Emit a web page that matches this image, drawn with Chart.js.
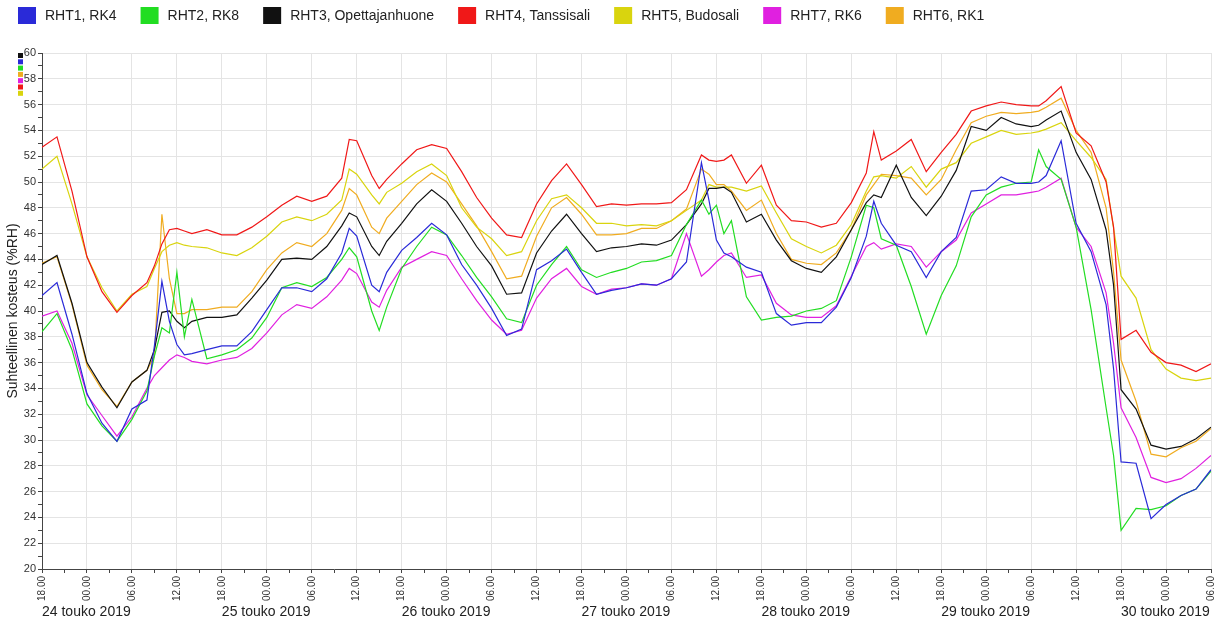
<!DOCTYPE html>
<html>
<head>
<meta charset="utf-8">
<title>Suhteellinen kosteus</title>
<script src="https://cdn.jsdelivr.net/npm/chart.js@4.4.1/dist/chart.umd.min.js"></script>
<style>
  html, body { margin: 0; padding: 0; background: #fff; }
</style>
</head>
<body>
<canvas id="line-chart" width="1226" height="620"></canvas>
<script>
// hours counted from 24.5.2019 klo 18.00 (mostly every 2 h, extra readings at the spikes)
var hours = [0,2,4,6,8,10,12,14,15,16,17,18,19,20,22,24,26,28,30,32,34,36,38,40,41,42,44,45,46,48,
  50,52,54,56,58,60,62,64,66,68,70,72,74,76,78,80,82,84,86,88,89,90,91,92,94,96,98,100,102,104,
  106,108,110,111,112,114,116,118,120,122,124,126,128,130,132,133,134,136,138,140,142,143,144,146,148,150,152,154,156];

var rht1 = [41.2,42.2,38.2,33.6,31.3,29.9,32.4,33.1,37.3,42.3,39.2,37.4,36.6,36.7,
  37.0,37.3,37.3,38.4,40.1,41.8,41.8,41.5,42.5,44.5,46.4,45.8,42.0,41.5,
  43.0,44.7,45.7,46.8,45.9,43.6,42.0,40.2,38.1,38.6,43.2,43.9,44.8,43.0,41.3,41.6,41.8,42.1,42.0,42.5,43.8,51.5,
  48.6,45.5,44.5,
  44.2,43.4,43.0,39.8,38.9,39.1,39.1,40.3,42.6,45.8,48.5,
  46.8,45.1,44.6,42.6,44.6,45.7,49.3,49.4,50.4,49.9,49.9,50.0,
  50.5,53.2,46.8,44.6,40.5,35.5,
  28.3,28.2,23.9,25.0,25.7,26.2,27.7];

var rht2 = [38.4,39.8,37.0,32.8,31.1,29.9,31.6,33.8,36.5,38.7,38.3,43.0,38.0,40.9,
  36.3,36.6,37.0,37.9,39.5,41.8,42.2,41.9,42.6,44.0,44.9,44.2,40.0,38.5,
  40.3,43.3,45.0,46.5,45.9,44.3,42.6,41.1,39.4,39.1,42.0,43.6,45.0,43.2,42.6,43.0,43.3,43.8,43.9,44.3,46.7,48.6,
  47.5,48.2,46.0,
  47.0,41.1,39.3,39.5,39.6,40.0,40.2,40.8,44.2,48.2,48.0,
  45.6,45.1,41.9,38.2,41.2,43.5,47.3,49.0,49.6,49.9,50.0,52.5,
  51.2,50.2,46.5,40.1,32.5,28.8,
  23.0,24.7,24.6,24.9,25.7,26.2,27.6];

var rht3 = [43.6,44.3,40.6,36.0,34.1,32.5,34.5,35.4,37.0,39.9,40.0,39.2,38.7,39.2,
  39.5,39.5,39.7,41.0,42.4,44.0,44.1,44.0,45.0,46.6,47.6,47.3,45.0,44.3,
  45.4,46.8,48.3,49.4,48.5,46.8,45.0,43.5,41.3,41.4,44.5,46.2,47.5,46.0,44.6,44.9,45.0,45.2,45.1,45.5,46.7,48.3,
  49.5,49.5,49.6,
  49.2,46.9,47.5,45.5,43.9,43.3,43.0,44.2,46.3,48.4,49.0,
  48.8,51.3,48.8,47.4,48.9,50.9,54.3,54.0,55.0,54.5,54.3,54.4,
  54.8,55.5,52.3,50.2,46.3,42.0,
  33.9,32.4,29.6,29.3,29.5,30.1,31.0];

var rht4 = [52.7,53.5,49.3,44.2,41.5,39.9,41.2,42.2,43.5,45.2,46.3,46.4,46.2,46.0,
  46.3,45.9,45.9,46.5,47.3,48.2,48.9,48.5,48.9,50.3,53.3,53.2,50.5,49.5,
  50.2,51.4,52.5,52.9,52.6,50.8,48.8,47.2,45.9,45.7,48.3,50.1,51.4,49.8,48.1,48.3,48.2,48.3,48.3,48.4,49.4,52.1,
  51.7,51.6,51.7,
  52.1,49.9,51.3,48.2,47.0,46.9,46.5,46.8,48.4,50.7,53.9,
  51.7,52.4,53.3,50.8,52.3,53.7,55.5,55.9,56.2,56.0,55.9,55.9,
  56.3,57.4,53.8,52.8,50.0,46.5,
  37.8,38.5,36.8,36.0,35.8,35.3,35.9];

var rht5 = [51.0,52.0,48.3,44.2,41.8,40.0,41.3,41.9,43.3,44.6,45.1,45.3,45.1,45.0,
  44.9,44.5,44.3,44.9,45.8,46.9,47.3,47.0,47.5,48.6,51.0,50.6,49.0,48.3,
  49.2,49.9,50.8,51.4,50.5,48.0,46.5,45.6,44.3,44.6,47.0,48.7,49.0,48.0,46.8,46.8,46.6,46.7,46.6,47.0,47.8,48.6,
  49.8,49.6,49.6,
  49.6,49.3,49.7,47.6,45.6,45.0,44.5,45.1,46.7,49.3,50.4,
  50.5,50.3,51.2,49.6,51.0,51.5,53.0,53.5,54.0,53.7,53.8,53.9,
  54.1,54.6,53.2,51.9,50.2,46.4,
  42.7,41.0,37.0,35.5,34.8,34.6,34.8];

var rht7 = [39.6,40.0,37.5,33.5,31.9,30.3,31.8,34.0,35.0,35.6,36.2,36.6,36.4,36.1,
  35.9,36.2,36.4,37.1,38.3,39.7,40.5,40.2,41.1,42.4,43.3,42.9,40.7,40.3,
  41.6,43.4,44.0,44.6,44.3,42.5,40.8,39.3,38.2,38.5,41.0,42.5,43.3,41.9,41.3,41.7,41.8,42.1,42.0,42.5,46.0,42.7,
  43.2,43.8,44.3,
  44.5,42.6,42.8,40.6,39.7,39.5,39.5,40.4,42.7,45.0,45.3,
  44.8,45.2,45.0,43.4,44.6,45.5,47.6,48.3,49.0,49.0,49.2,49.3,
  49.6,50.3,46.5,45.0,41.4,37.5,
  32.5,30.2,27.1,26.7,27.0,27.8,28.8];

var rht6 = [43.7,44.2,40.5,35.8,33.9,32.6,34.5,35.4,36.5,47.5,42.5,39.8,39.8,40.1,
  40.1,40.3,40.3,41.5,43.2,44.5,45.3,45.0,46.0,47.8,49.5,49.0,46.5,46.0,
  47.2,48.5,49.8,50.7,50.0,48.3,46.6,44.6,42.5,42.7,45.8,48.0,48.8,47.5,45.9,45.9,46.0,46.4,46.4,47.0,47.9,51.0,
  50.6,49.8,49.8,
  49.3,47.8,48.6,46.0,44.0,43.7,43.6,44.5,46.3,49.0,49.8,
  50.6,50.5,50.3,49.0,50.2,52.5,54.6,55.1,55.4,55.3,55.4,55.5,
  55.8,56.5,54.0,52.3,48.0,43.0,
  36.2,33.0,28.9,28.7,29.4,29.9,30.9];

var clockLabels = ['18.00', '00.00', '06.00', '12.00'];
var dayTicks = [0, 24, 48, 72, 96, 120, 144];
var dayLabels = ['24 touko 2019', '25 touko 2019', '26 touko 2019', '27 touko 2019',
  '28 touko 2019', '29 touko 2019', '30 touko 2019'];

function pts(values) {
  return values.map(function (v, i) { return { x: hours[i], y: v }; });
}

Chart.defaults.font.family = '"Liberation Sans", Arial, sans-serif';
Chart.defaults.color = '#333';

// legend row on top + small colour keys next to the y axis
var topLegend = {
  id: 'topLegend',
  afterDraw: function (chart) {
    var ctx = chart.ctx;
    var sets = chart.data.datasets;
    ctx.save();
    ctx.font = '14px "Liberation Sans", Arial, sans-serif';
    ctx.textBaseline = 'middle';
    ctx.textAlign = 'left';
    var x = 18;
    sets.forEach(function (ds) {
      ctx.fillStyle = ds.borderColor;
      ctx.fillRect(x, 7, 18, 17);
      ctx.fillStyle = '#222';
      ctx.fillText(ds.label, x + 27, 16);
      x += 27 + ctx.measureText(ds.label).width + 24;
    });
    var order = [2, 0, 1, 6, 5, 3, 4];
    var left = chart.chartArea.left - 24;
    var top = chart.chartArea.top;
    order.forEach(function (idx, i) {
      ctx.fillStyle = sets[idx].borderColor;
      ctx.fillRect(left, top + i * 6.3, 5, 5);
    });
    ctx.restore();
  }
};

function line(label, values, color) {
  return { label: label, data: pts(values), borderColor: color, backgroundColor: color, fill: false };
}

new Chart(document.getElementById('line-chart'), {
  type: 'line',
  data: {
    datasets: [
      line('RHT1, RK4', rht1, '#2a2ad8'),
      line('RHT2, RK8', rht2, '#22dd22'),
      line('RHT3, Opettajanhuone', rht3, '#111111'),
      line('RHT4, Tanssisali', rht4, '#f01818'),
      line('RHT5, Budosali', rht5, '#d9d40e'),
      line('RHT7, RK6', rht7, '#e020e0'),
      line('RHT6, RK1', rht6, '#f0ac20')
    ]
  },
  plugins: [topLegend],
  options: {
    responsive: false,
    animation: false,
    parsing: false,
    layout: { padding: { left: 0, right: 15, top: 53, bottom: 0 } },
    elements: {
      point: { radius: 0 },
      line: { borderWidth: 1.2, tension: 0 }
    },
    plugins: {
      legend: { display: false },
      tooltip: { enabled: false }
    },
    scales: {
      x: {
        type: 'linear',
        min: 0,
        max: 156,
        weight: 1,
        ticks: {
          stepSize: 3,
          autoSkip: false,
          minRotation: 90,
          maxRotation: 90,
          padding: 3,
          font: { size: 10 },
          color: '#333',
          callback: function (v) { return v % 6 === 0 ? clockLabels[(v / 6) % 4] : ''; }
        },
        grid: {
          color: function (c) { return c.tick && c.tick.value % 6 === 0 ? '#e4e4e4' : 'rgba(0,0,0,0)'; },
          tickColor: '#444',
          tickLength: 4
        },
        border: { color: '#444', width: 1 },
        afterFit: function (s) { s.height = 35; }
      },
      x2: {
        type: 'linear',
        position: 'bottom',
        min: 0,
        max: 156,
        weight: 2,
        afterBuildTicks: function (s) { s.ticks = dayTicks.map(function (v) { return { value: v }; }); },
        ticks: {
          autoSkip: false,
          maxRotation: 0,
          align: 'start',
          padding: 0,
          font: { size: 14 },
          color: '#222',
          callback: function (v, i) { return dayLabels[i]; }
        },
        grid: { display: false, drawTicks: false },
        border: { display: false },
        afterFit: function (s) { s.height = 16; }
      },
      y: {
        min: 20,
        max: 60,
        ticks: {
          stepSize: 1,
          autoSkip: false,
          padding: 2,
          font: { size: 11 },
          color: '#333',
          callback: function (v) { return v % 2 === 0 ? v : ''; }
        },
        grid: {
          color: function (c) { return c.tick && c.tick.value % 2 === 0 ? '#e4e4e4' : 'rgba(0,0,0,0)'; },
          tickColor: '#444',
          tickLength: 4
        },
        border: { color: '#444', width: 1 },
        title: {
          display: true,
          text: 'Suhteellinen kosteus (%RH)',
          font: { size: 14 },
          color: '#222',
          padding: { top: 5, bottom: 0 }
        },
        afterFit: function (s) { s.width = 42; }
      }
    }
  }
});
</script>
</body>
</html>
